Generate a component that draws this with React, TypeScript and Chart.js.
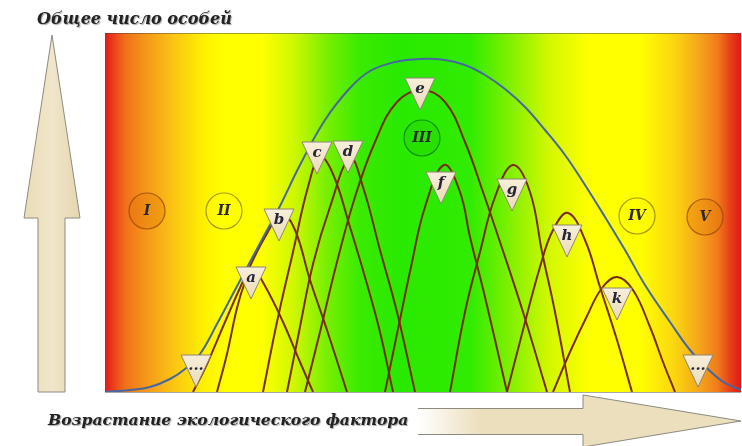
import React, { useEffect, useRef } from "react";
import { Chart, registerables } from "chart.js";

Chart.register(...registerables);

// Axes: ecological factor (0..636) and number of individuals (0..359), both hidden
const FACTOR_MAX = 636;
const COUNT_MAX = 359;

// Total number of individuals (envelope)
const ENVELOPE: [number, number][] = [
  [0, 0], [25, 2], [45, 5], [65, 13], [80, 23], [95, 38], [112, 68], [130, 102],
  [145, 130], [160, 158], [175, 186], [195, 227], [220, 272], [245, 304], [265, 321],
  [290, 330], [315, 333], [340, 332], [360, 327], [380, 317], [400, 303], [420, 285],
  [440, 262], [460, 237], [480, 207], [500, 175], [520, 142], [540, 107], [565, 70],
  [585, 42], [605, 21], [620, 9], [636, 2],
];

// Individual species curves
const CURVE_A: [number, number][] = [[112, 0], [122, 38], [132, 84], [140, 110], [147, 124], [160, 106], [178, 70], [195, 30], [208, 0]];
const CURVE_B: [number, number][] = [[88, 0], [102, 28], [120, 70], [140, 115], [160, 155], [177, 178], [190, 162], [205, 112], [222, 62], [242, 0]];
const CURVE_C: [number, number][] = [[158, 0], [172, 70], [188, 140], [203, 205], [215, 235], [228, 218], [245, 165], [262, 108], [275, 60], [288, 0]];
const CURVE_D: [number, number][] = [[182, 0], [194, 60], [208, 128], [225, 185], [245, 234], [258, 205], [275, 142], [292, 80], [310, 0]];
const CURVE_E: [number, number][] = [[200, 0], [215, 60], [232, 130], [250, 195], [270, 250], [292, 290], [317, 302], [340, 290], [360, 250], [378, 200], [395, 150], [418, 80], [442, 0]];
const CURVE_F: [number, number][] = [[280, 0], [292, 58], [306, 125], [320, 185], [339, 227], [355, 200], [365, 155], [380, 95], [402, 0]];
const CURVE_G: [number, number][] = [[345, 0], [360, 80], [375, 140], [390, 195], [408, 227], [425, 200], [437, 140], [450, 80], [465, 0]];
const CURVE_H: [number, number][] = [[402, 0], [418, 62], [435, 125], [448, 162], [463, 179], [480, 152], [495, 105], [512, 52], [527, 0]];
const CURVE_K: [number, number][] = [[448, 0], [465, 40], [482, 76], [497, 104], [512, 115], [528, 102], [545, 65], [558, 30], [570, 0]];

const SPECIES_CURVES = [CURVE_A, CURVE_B, CURVE_C, CURVE_D, CURVE_E, CURVE_F, CURVE_G, CURVE_H, CURVE_K];

// Species markers (inverted triangles)
const MARKER_LABELS = ["...", "a", "b", "c", "d", "e", "f", "g", "h", "k", "..."];
const MARKER_X = [91, 146, 174, 212, 243, 315, 336, 407, 462, 512, 593];
const MARKER_Y = [21, 109, 167, 234, 235, 298, 204, 197, 151, 88, 21];

// Zones
const ZONE_LABELS = ["I", "II", "III", "IV", "V"];
const ZONE_X = [42, 119, 317, 532, 600];
const ZONE_Y = [181, 181, 254, 176, 175];

const TITLE_Y = "Общее число особей";
const TITLE_X = "Возрастание экологического фактора";

const BROWN = "#7a2d0b";
const BLUE = "#46679f";
const SERIF = '"DejaVu Serif", "Liberation Serif", serif';

export default function App() {
  const ref = useRef<HTMLCanvasElement>(null);

  useEffect(() => {
    document.body.style.margin = "0";
    const canvas = ref.current!;

    const tri = document.createElement("canvas");
    tri.width = 32;
    tri.height = 34;
    const t = tri.getContext("2d")!;
    const tg = t.createLinearGradient(0, 0, 0, 34);
    tg.addColorStop(0, "#f8f0dc");
    tg.addColorStop(1, "#e9dab6");
    t.beginPath();
    t.moveTo(1, 1);
    t.lineTo(31, 1);
    t.lineTo(16, 33);
    t.closePath();
    t.fillStyle = tg;
    t.fill();
    t.strokeStyle = "#8f8672";
    t.lineWidth = 1;
    t.stroke();

    const toXY = (arr: [number, number][]) => arr.map(([x, y]) => ({ x, y }));

    const bgPlugin = {
      id: "bg",
      beforeDraw(chart: any) {
        const { ctx, chartArea: a } = chart;
        ctx.save();
        ctx.fillStyle = "#ffffff";
        ctx.fillRect(0, 0, chart.width, chart.height);
        const w = a.right - a.left;
        const g = ctx.createLinearGradient(a.left, 0, a.right, 0);
        const stops: [number, string][] = [
          [105, "#e3161b"], [112, "#ea3a1a"], [125, "#f0701a"], [145, "#f5961a"],
          [175, "#fbc712"], [205, "#fff200"], [225, "#ffff00"], [262, "#ffff00"],
          [295, "#ccf700"], [325, "#7cf000"], [360, "#3aeb00"], [400, "#28ea00"],
          [470, "#30ec00"], [510, "#80f000"], [550, "#d4f800"], [590, "#ffff00"],
          [640, "#ffff00"], [675, "#fbd510"], [700, "#f5a41a"], [718, "#f07a1a"],
          [730, "#e8401a"], [741, "#e01818"],
        ];
        stops.forEach(([p, c]) => g.addColorStop(Math.min(1, Math.max(0, (p - 105) / 636)), c));
        ctx.fillStyle = g;
        ctx.fillRect(a.left, a.top, w, a.bottom - a.top);
        ctx.strokeStyle = "rgba(60,60,60,0.45)";
        ctx.lineWidth = 1;
        ctx.beginPath();
        ctx.moveTo(a.left, a.top + 0.5);
        ctx.lineTo(a.right, a.top + 0.5);
        ctx.moveTo(a.left, a.bottom + 0.5);
        ctx.lineTo(a.right, a.bottom + 0.5);
        ctx.stroke();

        // vertical arrow
        const vg = ctx.createLinearGradient(24, 0, 80, 0);
        vg.addColorStop(0, "#eadcb6");
        vg.addColorStop(0.5, "#f1e6cb");
        vg.addColorStop(1, "#e6d6b0");
        ctx.beginPath();
        ctx.moveTo(52, 35);
        ctx.lineTo(80, 218);
        ctx.lineTo(65, 218);
        ctx.lineTo(65, 392);
        ctx.lineTo(38, 392);
        ctx.lineTo(38, 218);
        ctx.lineTo(24, 218);
        ctx.closePath();
        ctx.fillStyle = vg;
        ctx.fill();
        ctx.strokeStyle = "#8d8a7e";
        ctx.stroke();

        // horizontal arrow
        const hg = ctx.createLinearGradient(418, 0, 480, 0);
        hg.addColorStop(0, "#ffffff");
        hg.addColorStop(1, "#ecdfbd");
        ctx.beginPath();
        ctx.moveTo(418, 408.5);
        ctx.lineTo(583, 408.5);
        ctx.lineTo(583, 395);
        ctx.lineTo(741, 421);
        ctx.lineTo(583, 447);
        ctx.lineTo(583, 434.5);
        ctx.lineTo(418, 434.5);
        ctx.fillStyle = hg;
        ctx.fill();
        ctx.stroke();

        // texts
        ctx.shadowColor = "rgba(0,0,0,0.35)";
        ctx.shadowOffsetX = 1;
        ctx.shadowOffsetY = 1;
        ctx.shadowBlur = 1;
        ctx.fillStyle = "#222222";
        ctx.textBaseline = "middle";
        ctx.textAlign = "left";
        ctx.font = `italic bold 16px ${SERIF}`;
        ctx.fillText(TITLE_Y, 37, 20);
        ctx.font = `italic bold 15.6px ${SERIF}`;
        ctx.fillText(TITLE_X, 48, 421);
        ctx.restore();
      },
    };

    const labelPlugin = {
      id: "labels",
      afterDatasetsDraw(chart: any) {
        const { ctx } = chart;
        const xs = chart.scales.x;
        const ys = chart.scales.y;
        ctx.save();
        ctx.textAlign = "center";
        ctx.textBaseline = "middle";
        ctx.fillStyle = "#26263a";
        ctx.font = `italic bold 15px ${SERIF}`;
        MARKER_LABELS.forEach((l, i) => {
          const px = xs.getPixelForValue(MARKER_X[i]);
          const py = ys.getPixelForValue(MARKER_Y[i]);
          ctx.fillText(l, px, py - 5);
        });
        ctx.font = `italic bold 14px ${SERIF}`;
        ctx.fillStyle = "#2a2a2a";
        ZONE_LABELS.forEach((l, i) => {
          ctx.fillText(l, xs.getPixelForValue(ZONE_X[i]), ys.getPixelForValue(ZONE_Y[i]));
        });
        ctx.restore();
      },
    };

    const datasets: any[] = [
      {
        label: "markers",
        data: MARKER_X.map((x, i) => ({ x, y: MARKER_Y[i] })),
        pointStyle: tri,
        pointRadius: 16,
        showLine: false,
        order: 0,
      },
      {
        label: "Общее число особей",
        data: toXY(ENVELOPE),
        showLine: true,
        borderColor: BLUE,
        borderWidth: 2,
        pointRadius: 0,
        tension: 0.4,
        order: 1,
      },
      ...SPECIES_CURVES.map((c, i) => ({
        label: "species " + i,
        data: toXY(c),
        showLine: true,
        borderColor: BROWN,
        borderWidth: 2,
        pointRadius: 0,
        tension: 0.4,
        order: 2,
      })),
      {
        label: "zones",
        data: ZONE_X.map((x, i) => ({ x, y: ZONE_Y[i] })),
        showLine: false,
        pointStyle: "circle",
        pointRadius: 18,
        borderWidth: 1.2,
        backgroundColor: [
          "rgba(225,120,10,0.35)", "rgba(255,255,0,0.3)", "rgba(30,200,0,0.3)",
          "rgba(255,255,0,0.3)", "rgba(230,130,10,0.35)",
        ],
        borderColor: [
          "rgba(150,70,10,0.75)", "rgba(140,120,0,0.75)", "rgba(10,120,0,0.75)",
          "rgba(140,120,0,0.75)", "rgba(150,70,10,0.75)",
        ],
        order: 5,
      },
    ];

    const chart = new Chart(canvas, {
      type: "scatter",
      data: { datasets },
      options: {
        animation: false,
        responsive: false,
        events: [],
        layout: { autoPadding: false, padding: { left: 105, right: 1, top: 33, bottom: 54 } },
        scales: {
          x: { type: "linear", min: 0, max: FACTOR_MAX, display: false },
          y: { type: "linear", min: 0, max: COUNT_MAX, display: false },
        },
        plugins: { legend: { display: false }, tooltip: { enabled: false }, title: { display: false } },
      },
      plugins: [bgPlugin, labelPlugin],
    });
    return () => chart.destroy();
  }, []);

  return (
    <div style={{ position: "absolute", left: 0, top: 0, width: 742, height: 446, background: "#fff" }}>
      <canvas ref={ref} width={742} height={446} />
    </div>
  );
}
